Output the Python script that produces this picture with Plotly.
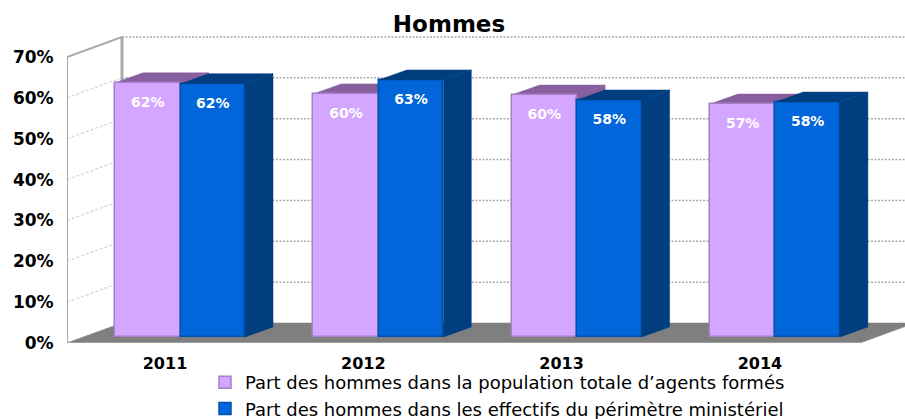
import plotly.graph_objects as go

years = ["2011", "2012", "2013", "2014"]
formes = [62.2, 59.5, 59.2, 57.0]
effectifs = [62.0, 62.9, 58.0, 57.5]
formes_labels = ["62%", "60%", "60%", "57%"]
effectifs_labels = ["62%", "63%", "58%", "58%"]
name_formes = "Part des hommes dans la population totale d’agents formés"
name_effectifs = "Part des hommes dans les effectifs du périmètre ministériel"
y_ticks = [0, 10, 20, 30, 40, 50, 60, 70]
y_labels = [f"{v}%" for v in y_ticks]

W, H = 905, 419
L, T, B = 67, 30, 76
PX_X = 198.3
PX_Y = 4.086
xr = [(L - 165) / PX_X, (W - 165) / PX_X]
yr = [0, (H - B - T) / PX_Y]

WALL_DX, WALL_DY = 55 / PX_X, 20 / PX_Y
BAR_DX, BAR_DY = 28 / PX_X, 10 / PX_Y
BASE = 6 / PX_Y
OFF1, W1 = -50 / PX_X, 65.5 / PX_X
OFF2, W2 = 15.5 / PX_X, 64.5 / PX_X

C1, C1D = "#D5A6FF", "#875E9E"
C2, C2D = "#0066D9", "#003E80"
GRID = "#ABABAB"
FONT = "DejaVu Sans, Verdana, sans-serif"

fig = go.Figure()


def poly(xs, ys, color, axes=("x", "y")):
    fig.add_trace(go.Scatter(x=xs, y=ys, mode="lines", fill="toself", fillcolor=color,
                             line=dict(color=color, width=0.5), showlegend=False,
                             hoverinfo="skip", xaxis=axes[0], yaxis=axes[1]))


def line(xs, ys, color, width, dash="solid"):
    fig.add_trace(go.Scatter(x=xs, y=ys, mode="lines", line=dict(color=color, width=width, dash=dash),
                             showlegend=False, hoverinfo="skip"))


# walls
xl = xr[0]
for v in y_ticks:
    line([xl, xl + WALL_DX], [v, v + WALL_DY], "#D6D6D6", 1.3, "3px,2px")
    if v > 0:
        line([xl + WALL_DX, xr[1]], [v + WALL_DY, v + WALL_DY], GRID, 1.5, "2px,1.5px")
# floor
poly([xl, xl + WALL_DX, xr[1] + 0.05, xr[1] - 45 / PX_X, xl], [0, WALL_DY, WALL_DY, 0, 0], "#7F7F7F")
line([xl, xl], [0, 70], "#ABABAB", 2)
line([xl, xl + WALL_DX], [70, 70 + WALL_DY], "#ABABAB", 2)
line([xl + WALL_DX, xl + WALL_DX], [WALL_DY, 70 + WALL_DY], "#ABABAB", 3)
line([xl, xr[1] - 45 / PX_X], [0, 0], "#ABABAB", 1.5)

# first series' depth faces sit behind the bars
A2 = ("x2", "y2")
for i, v in enumerate(formes):
    t = v + BASE
    x0, x1 = i + OFF1, i + OFF1 + W1
    poly([x0, x0 + BAR_DX, x1 + BAR_DX, x1, x0], [t, t + BAR_DY, t + BAR_DY, t, t], C1D)
    poly([x1, x1 + BAR_DX, x1 + BAR_DX, x1, x1], [t, t + BAR_DY, BASE + BAR_DY, BASE, t], C1D)

xs = list(range(len(years)))
fig.add_trace(go.Bar(x=xs, y=formes, base=BASE, offset=OFF1, width=W1, name=name_formes,
                     marker=dict(color=C1, line=dict(color="#A57FC8", width=1.5)),
                     xaxis="x2", yaxis="y2", hoverinfo="skip"))
fig.add_trace(go.Bar(x=xs, y=effectifs, base=BASE, offset=OFF2, width=W2, name=name_effectifs,
                     marker=dict(color=C2, line=dict(color="#0052AE", width=1.5)),
                     xaxis="x2", yaxis="y2", hoverinfo="skip"))

for i, v in enumerate(effectifs):
    t = v + BASE
    x0, x1 = i + OFF2, i + OFF2 + W2
    poly([x0, x0 + BAR_DX, x1 + BAR_DX, x1, x0], [t, t + BAR_DY, t + BAR_DY, t, t], C2D, A2)
    poly([x1, x1 + BAR_DX, x1 + BAR_DX, x1, x1], [t, t + BAR_DY, BASE + BAR_DY, BASE, t], C2D, A2)

LBL = 20.5 / PX_Y
for vals, labels, off, w in ((formes, formes_labels, OFF1, W1), (effectifs, effectifs_labels, OFF2, W2)):
    fig.add_trace(go.Scatter(x=[i + off + w / 2 for i in xs], y=[v + BASE - LBL for v in vals],
                             mode="text", text=labels, textposition="middle center",
                             textfont=dict(family=FONT, size=14, color="white", weight="bold"),
                             showlegend=False, hoverinfo="skip", xaxis="x2", yaxis="y2"))

fig.update_layout(
    width=W, height=H, autosize=False, barmode="overlay", bargap=0,
    margin=dict(l=L, r=0, t=T, b=B, pad=0, autoexpand=False),
    paper_bgcolor="white", plot_bgcolor="white",
    font=dict(family=FONT, color="black"),
    title=dict(text="<b>Hommes</b>", x=449 / W, xanchor="center", y=1 - 24 / H, yanchor="middle",
               font=dict(family=FONT, size=23, color="black")),
    xaxis=dict(range=xr, tickvals=xs, ticktext=years, showgrid=False, zeroline=False, showline=False,
               ticks="outside", ticklen=6, tickcolor="white",
               tickfont=dict(family=FONT, size=16, color="black", weight="bold")),
    yaxis=dict(range=yr, tickvals=y_ticks, ticktext=y_labels, showgrid=False, zeroline=False, showline=False,
               ticks="outside", ticklen=9, tickcolor="white",
               tickfont=dict(family=FONT, size=17, color="black", weight="bold")),
    xaxis2=dict(range=xr, overlaying="x", visible=False),
    yaxis2=dict(range=yr, overlaying="y", visible=False),
    legend=dict(x=(205 - L) / (W - L), xanchor="left", y=(H - B - 364) / (H - B - T), yanchor="top",
                orientation="v", font=dict(family=FONT, size=18, color="black"),
                bgcolor="rgba(0,0,0,0)", tracegroupgap=0, itemclick=False, itemdoubleclick=False),
)
fig.write_html("out.html", config=dict(displayModeBar=False),
               post_script="document.body.style.margin='0';")
